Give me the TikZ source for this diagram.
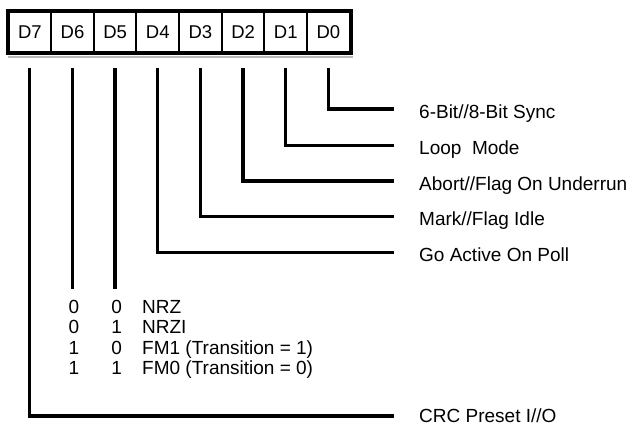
\documentclass[tikz,border=0pt]{standalone}
\usepackage{fontspec}
\setmainfont{Liberation Sans}
\usetikzlibrary{calc}
\begin{document}
\begin{tikzpicture}[x=1pt,y=-1pt,
  cell/.style={draw,line width=2pt,minimum width=42.65pt,minimum height=40.5pt,inner sep=0pt,font=\fontsize{18.5}{20}\selectfont},
  conn/.style={line width=3.3pt},
  lbl/.style={anchor=base west,inner sep=0pt,font=\fontsize{19}{22}\selectfont},
  bit/.style={anchor=base,inner sep=0pt,font=\fontsize{19}{22}\selectfont},
  ]
\useasboundingbox (0,0) rectangle (626,427);
\foreach \n/\t [count=\i from 0] in {d7/D7,d6/D6,d5/D5,d4/D4,d3/D3,d2/D2,d1/D1,d0/D0}
  \node[cell] (\n) at (29.825+42.65*\i,32) {\t};
\draw[line width=4pt] (d7.north west) rectangle (d0.south east);
\draw[gray!55,line width=1.5pt] ([yshift=-3.6pt]d7.south west) -- ([yshift=-3.6pt,xshift=2pt]d0.south east);

% labels
\node[lbl] (l0) at (419,118.3) {6-Bit//8-Bit Sync};
\node[lbl] (l1) at (419,154.8) {Loop\ \ Mode};
\node[lbl] (l2) at (419,190.3) {Abort//Flag On Underrun};
\node[lbl] (l3) at (419,226) {Mark//Flag Idle};
\node[lbl] (l4) at (419,261.6) {Go Active On Poll};
\node[lbl] (l7) at (419,422.5) {CRC Preset I//O};

% connectors
\draw[conn] ($(d0.south)+(0,14.75)$) |- ($(l0.base west)+(-25.5,-9.3)$);
\draw[conn] ($(d1.south)+(0,14.75)$) |- ($(l1.base west)+(-25.5,-9.3)$);
\draw[conn] ($(d2.south)+(0,14.75)$) |- ($(l2.base west)+(-25.5,-9.3)$);
\draw[conn] ($(d3.south)+(0,14.75)$) |- ($(l3.base west)+(-25.5,-9.3)$);
\draw[conn] ($(d4.south)+(0,14.75)$) |- ($(l4.base west)+(-25.5,-9.3)$);
\draw[conn] ($(d7.south)+(0,14.75)$) |- ($(l7.base west)+(-25.5,-6.5)$);
\path (d6.south) ++(0,236) coordinate (e6);
\path (d5.south) ++(0,236) coordinate (e5);
\draw[conn] ($(d6.south)+(0,14.75)$) -- (e6);
\draw[conn] ($(d5.south)+(0,14.75)$) -- (e5);

% table
\node[bit] (a1) at (74,314) {0};   \node[bit] (b1) at (116.7,314) {0};   \node[lbl] (t1) at (142,314) {NRZ};
\node[bit] (a2) at (74,334) {0};   \node[bit] (b2) at (116.7,334) {1};   \node[lbl] (t2) at (142,334) {NRZI};
\node[bit] (a3) at (74,354.5) {1}; \node[bit] (b3) at (116.7,354.5) {0}; \node[lbl] (t3) at (142,354.5) {FM1 (Transition = 1)};
\node[bit] (a4) at (74,374.5) {1}; \node[bit] (b4) at (116.7,374.5) {1}; \node[lbl] (t4) at (142,374.5) {FM0 (Transition = 0)};
\end{tikzpicture}
\end{document}
